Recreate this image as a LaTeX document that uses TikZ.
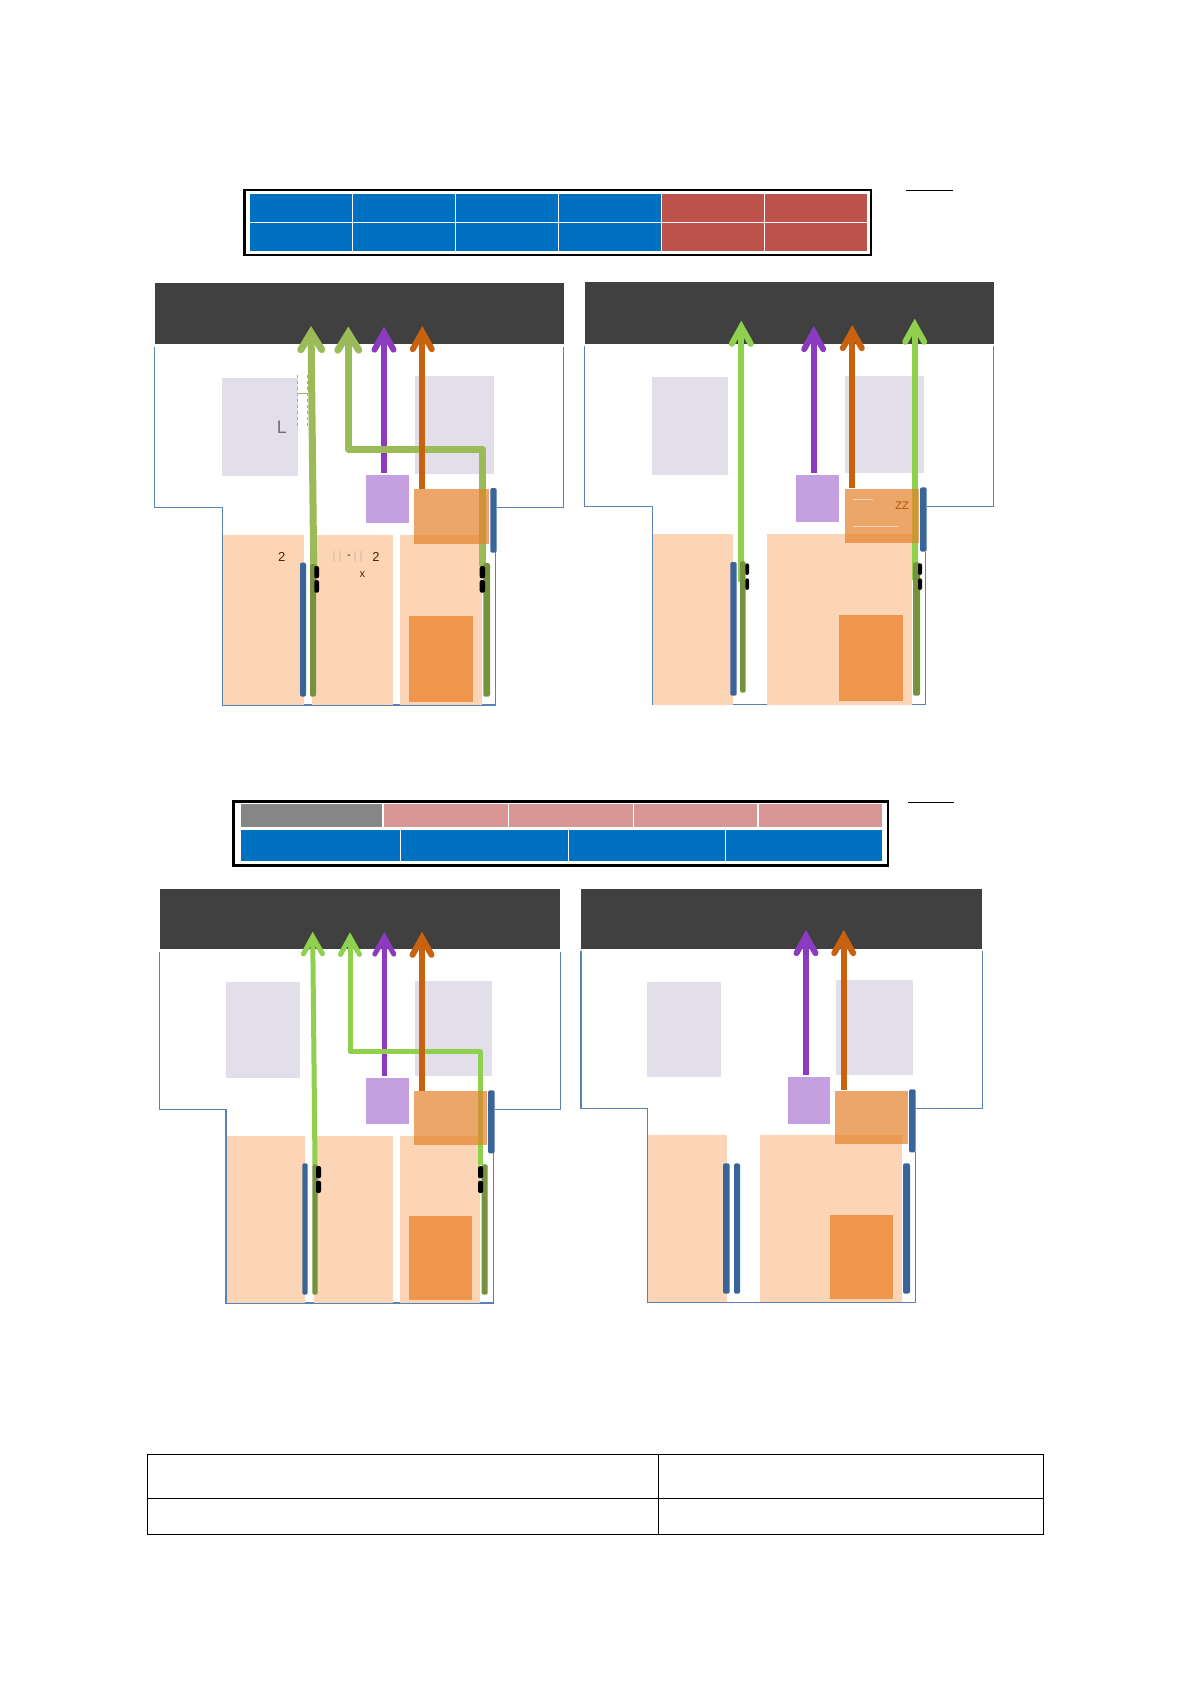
\documentclass[tikz,border=0pt]{standalone}
\usepackage{fontspec}
\setmainfont{Liberation Sans}
\usetikzlibrary{arrows.meta}
\definecolor{darkbar}{HTML}{404040}
\definecolor{lav}{HTML}{E3DFEA}
\definecolor{peach}{HTML}{FBD5B5}
\definecolor{deeporange}{HTML}{EE964C}
\definecolor{boxorange}{HTML}{E5812C}
\definecolor{boxpurple}{HTML}{C4A0E0}
\definecolor{arrpurple}{HTML}{8B3BC0}
\definecolor{arrorange}{HTML}{C9620E}
\definecolor{greena}{HTML}{9BBB59}
\definecolor{greenb}{HTML}{8FD14F}
\definecolor{barblue}{HTML}{3A659B}
\definecolor{barolive}{HTML}{76923C}
\definecolor{hdrblue}{HTML}{0070C0}
\definecolor{hdrred}{HTML}{BE524D}
\definecolor{hdrpink}{HTML}{D99694}
\definecolor{hdrgray}{HTML}{868686}
\definecolor{outl}{HTML}{5A82B4}
\tikzset{
  x=1pt,y=-1pt,
  flat/.style={inner sep=0pt,outer sep=0pt,draw=none},
  darkzone/.style={flat,fill=darkbar},
  lavzone/.style={flat,fill=lav},
  peachzone/.style={flat,fill=peach},
  deepzone/.style={flat,fill=deeporange},
  purplezone/.style={flat,fill=boxpurple},
  orangezone/.style={flat,fill=boxorange,fill opacity=.7},
  bluebar/.style={flat,fill=barblue,rounded corners=1.5pt},
  olivebar/.style={flat,fill=barolive,rounded corners=1.5pt},
  pill/.style={flat,fill=black,rounded corners=2pt},
  cellblue/.style={flat,fill=hdrblue},
  cellred/.style={flat,fill=hdrred},
  cellpink/.style={flat,fill=hdrpink},
  cellgray/.style={flat,fill=hdrgray},
  outline/.style={draw=outl,line width=1.2pt},
  frame/.style={draw=black,line width=2.6pt,line join=miter},
  rule/.style={draw=black,line width=1.1pt},
  thinrule/.style={draw=black,line width=1pt},
  cellgap/.style={draw=white,line width=1.2pt},
  upwide/.style={line width=7pt,line join=round,-{Straight Barb[length=17pt,width=21pt,line cap=round]}},
  upheavy/.style={line width=6pt,line join=round,-{Straight Barb[length=17pt,width=19pt,line cap=round]}},
  uplight/.style={line width=5pt,line join=round,-{Straight Barb[length=17pt,width=19pt,line cap=round]}},
  tinytext/.style={inner sep=0pt,font=\fontsize{11}{12}\selectfont,text=black!70!orange},
  smalldigit/.style={tinytext,font=\fontsize{13}{14}\selectfont},
}
\newcommand{\rb}[6]{\node[#6,minimum width={(#4-#2)*1pt},minimum height={(#5-#3)*1pt}] (#1) at ({(#2+#4)/2},{(#3+#5)/2}) {};}
\begin{document}
\begin{tikzpicture}
\useasboundingbox (0,0) rectangle (1190,1684);
\fill[white] (0,0) rectangle (1190,1684);

% ===== header bar 1 =====
\rb{hA}{250}{194}{661.6}{251}{cellblue}
\rb{hB}{661.6}{194}{867}{251}{cellred}
\draw[cellgap] (250,222.3) -- (867,222.3);
\foreach \xx in {352.3,455.6,558.3,661.6,764.4} \draw[cellgap] (\xx,194) -- (\xx,251);
\draw[frame] (244.2,190) rectangle (871,255);
\draw[thinrule] (906,190.3) -- (953,190.3);

% ===== panel A =====
\draw[outline] (154.3,347) -- (154.3,507.3) -- (222.3,507.3) -- (222.3,705) -- (495.3,705) -- (495.3,552);
\draw[outline] (497,507.3) -- (563.7,507.3) -- (563.7,347);
\rb{aL1}{222}{377.7}{298}{475.7}{lavzone}
\rb{aL2}{415}{376}{494}{474}{lavzone}
\rb{aP1}{223.3}{535}{304}{705}{peachzone}
\rb{aP2}{312}{535}{393}{705}{peachzone}
\rb{aP3}{400.3}{535}{482}{705}{peachzone}
\rb{aD}{409}{616}{473}{702}{deepzone}
\rb{aTop}{155}{283}{564}{344}{darkzone}
\rb{aPur}{365.7}{475}{409}{523}{purplezone}
\coordinate (aGs1) at (313.7,566); \coordinate (aGt1) at (311,326);
\coordinate (aGs2) at (482.3,566); \coordinate (aGm2) at (482.3,449); \coordinate (aGn2) at (348.3,449); \coordinate (aGt2) at (348.3,326.5);
\coordinate (aPs) at (384,473); \coordinate (aPt) at (384,326.5);
\coordinate (aOs) at (422.3,489); \coordinate (aOt) at (422.3,326);
\draw[upheavy,arrpurple] (aPs) -- (aPt);
\draw[upwide,greena] (aGs1) -- (aGt1);
\draw[upwide,greena] (aGs2) -- (aGm2) -- (aGn2) -- (aGt2);
\draw[upheavy,arrorange] (aOs) -- (aOt);
\rb{aO}{414}{489}{489}{544}{orangezone}
\rb{aB1}{300}{562.7}{306}{696.7}{bluebar}
\rb{aB2}{490.3}{488}{496.7}{552.7}{bluebar}
\rb{aV1}{310}{564}{316}{696.7}{olivebar}
\rb{aV2}{483.3}{563}{490}{696.7}{olivebar}
\rb{aK1}{314.3}{566}{319}{578.3}{pill}
\rb{aK2}{314.3}{580}{319}{592.7}{pill}
\rb{aK3}{479.7}{566}{485}{578.3}{pill}
\rb{aK4}{479.7}{580}{485}{592.7}{pill}
\draw[greena,line width=1pt] (296.7,393.3) -- (307.7,393.3);
\draw[greena,line width=.8pt,dashed] (297,375) -- (297,427);
\draw[greena,line width=.8pt,dashed] (307.7,375) -- (307.7,427);
\node[inner sep=0pt,font=\fontsize{18}{20}\selectfont,text=black!50!lav] (aT1) at (282,427) {L};
\node[smalldigit] (aT2) at (281.7,556.7) {2};
\node[smalldigit] (aT3) at (376,556.7) {2};
\node[tinytext] (aT4) at (349,556.7) {-};
\node[tinytext] (aT5) at (362.3,575) {x};
\node[tinytext,text=black!15!peach] (aT6) at (337,556.7) {| |};
\node[tinytext,text=black!15!peach] (aT7) at (358,556.7) {| |};

% ===== panel B =====
\draw[outline] (584.3,346) -- (584.3,506.3) -- (652.3,506.3) -- (652.3,704.7) -- (925.3,704.7) -- (925.3,552);
\draw[outline] (926.7,506.3) -- (993.7,506.3) -- (993.7,346);
\rb{bL1}{652}{377}{728}{474.7}{lavzone}
\rb{bL2}{845}{376}{924}{473}{lavzone}
\rb{bP1}{653}{534}{733}{704.7}{peachzone}
\rb{bP2}{767}{534}{912}{704.7}{peachzone}
\rb{bD}{839}{615}{903}{701}{deepzone}
\rb{bTop}{585}{282}{994}{344}{darkzone}
\rb{bPur}{796}{475}{839}{522}{purplezone}
\coordinate (bGs1) at (741.3,581.7); \coordinate (bGt1) at (741.3,320.7);
\coordinate (bGs2) at (914.7,580); \coordinate (bGt2) at (914.7,318.7);
\coordinate (bPs) at (813.7,472.7); \coordinate (bPt) at (813.7,326);
\coordinate (bOs) at (852.3,488); \coordinate (bOt) at (852.3,325);
\draw[upheavy,arrpurple] (bPs) -- (bPt);
\draw[upheavy,greenb] (bGs1) -- (bGt1);
\draw[upheavy,greenb] (bGs2) -- (bGt2);
\draw[upheavy,arrorange] (bOs) -- (bOt);
\rb{bO}{844.7}{488.7}{919}{543}{orangezone}
\rb{bB1}{730.3}{562}{736.7}{695.7}{bluebar}
\rb{bB2}{920}{487.3}{926.7}{551.7}{bluebar}
\rb{bV1}{740}{561.3}{745.7}{692.7}{olivebar}
\rb{bV2}{913}{562.3}{920}{695.7}{olivebar}
\rb{bK1}{745.3}{563.3}{749}{575}{pill}
\rb{bK2}{745.3}{578.3}{749}{590}{pill}
\rb{bK3}{918}{563.3}{922}{575}{pill}
\rb{bK4}{918}{578.3}{922}{590}{pill}
\draw[peach,line width=.7pt] (853.3,499.3) -- (872.7,499.3);
\draw[peach,line width=.7pt] (853.3,526.3) -- (898,526.3);
\node[tinytext,text=arrorange!85!black] (bT1) at (902,505.7) {ZZ};
\node[inner sep=0pt,font=\fontsize{6}{7}\selectfont,text=peach] (bT2) at (881.7,518.5) {-};

% ===== header bar 2 =====
\rb{cA}{240.8}{804}{382.9}{826.7}{cellgray}
\rb{cB}{382.9}{804}{882}{826.7}{cellpink}
\rb{cC}{240.8}{830}{882}{861}{cellblue}
\foreach \xx in {382.9,508.4,633.5,758} \draw[cellgap] (\xx,804) -- (\xx,826.7);
\foreach \xx in {400.3,568.5,725.6} \draw[cellgap] (\xx,830) -- (\xx,861);
\draw[frame] (233.6,801.7) rectangle (888,865.3);
\draw[thinrule] (907.8,802.3) -- (953.9,802.3);

% ===== panel C =====
\draw[outline] (159.3,952) -- (159.3,1109.3) -- (226,1109.3) -- (226,1303) -- (493.3,1303) -- (493.3,1153);
\draw[outline] (494.7,1109.3) -- (560.7,1109.3) -- (560.7,952);
\rb{cL1}{226}{982}{300}{1077.7}{lavzone}
\rb{cL2}{415}{981}{492}{1075.7}{lavzone}
\rb{cP1}{226.7}{1136}{305}{1303}{peachzone}
\rb{cP2}{314}{1136}{393}{1303}{peachzone}
\rb{cP3}{400}{1136}{480}{1303}{peachzone}
\rb{cD}{409}{1216}{472}{1300}{deepzone}
\rb{cTop}{160}{889}{560}{949}{darkzone}
\rb{cPur}{366}{1078}{409}{1124}{purplezone}
\coordinate (cGs1) at (315,1165); \coordinate (cGt1) at (312.7,931.7);
\coordinate (cGs2) at (480,1165); \coordinate (cGm2) at (480,1051.7); \coordinate (cGn2) at (350,1051.7); \coordinate (cGt2) at (350,932.3);
\coordinate (cPs) at (384.3,1075.7); \coordinate (cPt) at (384.3,932);
\coordinate (cOs) at (422,1091); \coordinate (cOt) at (422,931.7);
\draw[uplight,arrpurple] (cPs) -- (cPt);
\draw[uplight,greenb] (cGs1) -- (cGt1);
\draw[uplight,greenb] (cGs2) -- (cGm2) -- (cGn2) -- (cGt2);
\draw[upheavy,arrorange] (cOs) -- (cOt);
\rb{cO}{414}{1091.3}{486.7}{1145}{orangezone}
\rb{cB1}{302.3}{1163.3}{307.7}{1294.7}{bluebar}
\rb{cB2}{488}{1090.3}{494.7}{1153.3}{bluebar}
\rb{cV1}{312.3}{1164.3}{317.7}{1294.7}{olivebar}
\rb{cV2}{481.7}{1164.3}{487.7}{1294.7}{olivebar}
\rb{cK1}{316}{1166}{321}{1178.3}{pill}
\rb{cK2}{316}{1180.7}{321}{1193}{pill}
\rb{cK3}{478}{1166}{483}{1178.3}{pill}
\rb{cK4}{478}{1180.7}{483}{1193}{pill}

% ===== panel D =====
\draw[outline] (581,950.7) -- (581,1108.3) -- (647.3,1108.3) -- (647.3,1302.3) -- (915.3,1302.3) -- (915.3,1152);
\draw[outline] (916,1108.3) -- (982.3,1108.3) -- (982.3,950.7);
\rb{dL1}{647}{982}{721}{1076.7}{lavzone}
\rb{dL2}{836}{980}{913}{1075}{lavzone}
\rb{dP1}{648}{1135}{727}{1302}{peachzone}
\rb{dP2}{760}{1135}{902}{1302}{peachzone}
\rb{dD}{830}{1215}{893}{1299}{deepzone}
\rb{dTop}{581}{889}{982}{949}{darkzone}
\rb{dPur}{788}{1077}{830}{1124}{purplezone}
\coordinate (dPs) at (806,1075); \coordinate (dPt) at (806,930);
\coordinate (dOs) at (843.7,1090); \coordinate (dOt) at (843.7,930);
\draw[upheavy,arrpurple] (dPs) -- (dPt);
\draw[upheavy,arrorange] (dOs) -- (dOt);
\rb{dO}{835}{1090.7}{908.3}{1144}{orangezone}
\rb{dB1}{723}{1163.3}{729.7}{1293.7}{bluebar}
\rb{dB2}{734}{1163.3}{740}{1293.7}{bluebar}
\rb{dB3}{903}{1163.3}{910}{1293.7}{bluebar}
\rb{dB4}{909}{1089.3}{915.7}{1152.3}{bluebar}

% ===== table =====
\draw[rule] (147.8,1454.3) rectangle (1043.4,1534.3);
\draw[rule] (147.8,1498.3) -- (1043.4,1498.3);
\draw[rule] (658.4,1454.3) -- (658.4,1534.3);
\end{tikzpicture}
\end{document}
